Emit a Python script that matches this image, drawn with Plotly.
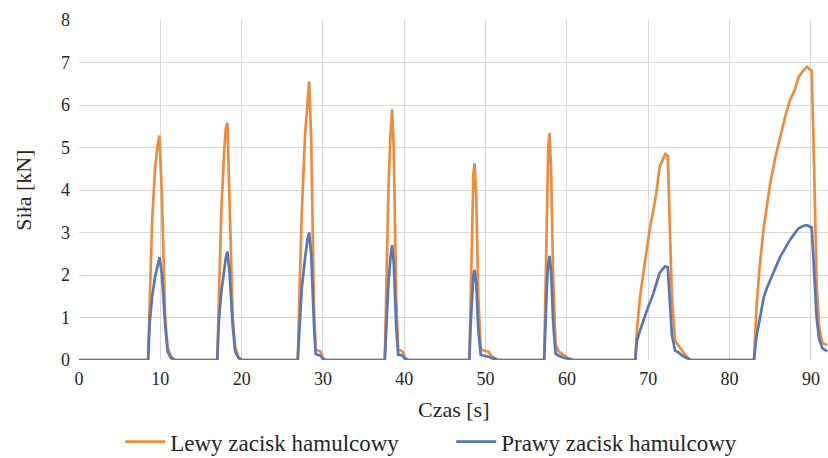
import plotly.graph_objects as go

# Time [s]
time_s = [
    0.0,
    8.5, 8.7, 9.0, 9.35, 9.7, 9.9, 10.2, 10.6, 10.9, 11.3, 11.8,
    17.0, 17.2, 17.5, 17.85, 18.05, 18.25, 18.5, 18.9, 19.2, 19.6, 20.0,
    26.9, 27.1, 27.4, 27.8, 28.1, 28.3, 28.55, 28.9, 29.1, 29.4, 29.7, 30.0, 30.3,
    37.6, 37.8, 38.05, 38.3, 38.5, 38.7, 39.0, 39.25, 39.5, 39.8, 40.1, 40.5,
    48.0, 48.15, 48.35, 48.5, 48.65, 48.85, 49.1, 49.4, 49.8, 50.3, 50.8, 51.5,
    57.2, 57.35, 57.55, 57.7, 57.85, 58.05, 58.3, 58.6, 59.0, 59.5, 60.0, 60.8,
    68.4, 68.6, 69.0, 69.4, 69.8, 70.2, 70.6, 71.0, 71.4, 71.8, 72.1, 72.4, 72.6, 72.9, 73.3, 73.7, 74.2, 74.7, 75.2,
    83.0, 83.3, 83.7, 84.2, 84.6, 85.0, 85.6, 86.2, 86.8, 87.4, 88.0, 88.5, 89.0, 89.5, 90.1, 90.4, 90.7, 91.0, 91.4, 92.0,
]

# Lewy zacisk hamulcowy [kN]
left_kN = [
    0.0,
    0, 1.4, 3.3, 4.5, 5.1, 5.28, 3.8, 1.0, 0.3, 0.08, 0,
    0, 1.5, 3.5, 4.9, 5.45, 5.58, 4.0, 1.0, 0.3, 0.08, 0,
    0, 1.5, 3.5, 5.3, 6.2, 6.55, 5.2, 1.2, 0.25, 0.22, 0.2, 0.05, 0,
    0, 1.8, 4.0, 5.3, 5.9, 5.0, 1.5, 0.25, 0.22, 0.2, 0.05, 0,
    0, 1.6, 3.5, 4.4, 4.63, 3.8, 1.5, 0.25, 0.22, 0.2, 0.08, 0,
    0, 1.8, 4.0, 5.0, 5.34, 4.5, 2.0, 0.35, 0.2, 0.12, 0.06, 0,
    0, 0.7, 1.5, 2.05, 2.6, 3.1, 3.5, 3.95, 4.55, 4.7, 4.85, 4.8, 3.5, 1.5, 0.45, 0.35, 0.2, 0.08, 0,
    0, 1.2, 2.2, 3.13, 3.7, 4.16, 4.75, 5.25, 5.7, 6.1, 6.35, 6.66, 6.8, 6.9, 6.8, 4.5, 1.8, 0.8, 0.4, 0.35,
]

# Prawy zacisk hamulcowy [kN]
right_kN = [
    0.0,
    0, 0.9, 1.5, 1.95, 2.25, 2.42, 2.0, 0.8, 0.2, 0.05, 0,
    0, 0.9, 1.6, 2.1, 2.4, 2.55, 2.1, 0.8, 0.2, 0.05, 0,
    0, 0.8, 1.7, 2.4, 2.85, 3.0, 2.5, 0.8, 0.15, 0.12, 0.1, 0.02, 0,
    0, 0.9, 1.8, 2.4, 2.7, 2.3, 0.8, 0.12, 0.12, 0.1, 0.02, 0,
    0, 0.8, 1.6, 2.0, 2.12, 1.8, 0.7, 0.12, 0.1, 0.08, 0.04, 0,
    0, 0.9, 1.8, 2.25, 2.45, 2.1, 0.9, 0.15, 0.1, 0.06, 0.03, 0,
    0, 0.45, 0.7, 0.95, 1.15, 1.35, 1.55, 1.8, 2.05, 2.15, 2.2, 2.18, 1.6, 0.6, 0.22, 0.18, 0.1, 0.04, 0,
    0, 0.55, 0.95, 1.48, 1.7, 1.88, 2.15, 2.42, 2.62, 2.82, 2.98, 3.1, 3.15, 3.17, 3.12, 2.0, 1.0, 0.5, 0.28, 0.2,
]

x_ticks = [0, 10, 20, 30, 40, 50, 60, 70, 80, 90]
y_ticks = [0, 1, 2, 3, 4, 5, 6, 7, 8]

FONT = "Liberation Serif, Times New Roman, DejaVu Serif, serif"
TXT = "#262626"

fig = go.Figure()
fig.add_trace(go.Scatter(x=time_s, y=left_kN, mode="lines", name="Lewy zacisk hamulcowy",
                         line=dict(color="#EE8C3E", width=2.7)))
fig.add_trace(go.Scatter(x=time_s, y=right_kN, mode="lines", name="Prawy zacisk hamulcowy",
                         line=dict(color="#5A77B2", width=2.7)))

fig.update_layout(
    width=828, height=458,
    margin=dict(l=79, r=0, t=20, b=98, autoexpand=False),
    paper_bgcolor="white", plot_bgcolor="white",
    font=dict(family=FONT, size=18, color=TXT),
    showlegend=True,
    legend=dict(orientation="h", x=0.055, xanchor="left", y=-0.24, yanchor="middle",
                font=dict(family=FONT, size=23, color=TXT), itemwidth=40,
                entrywidth=276, entrywidthmode="pixels", traceorder="normal"),
    xaxis=dict(range=[0, 92.1], tickvals=x_ticks, showgrid=True, gridcolor="#D9D9D9", gridwidth=1,
               zeroline=False, showline=False, ticks="", ticklabelstandoff=6,
               tickfont=dict(family=FONT, size=18, color=TXT), fixedrange=True),
    yaxis=dict(range=[0, 8], tickvals=y_ticks, showgrid=True, gridcolor="#D9D9D9", gridwidth=1,
               zeroline=False, showline=False, ticks="", ticklabelstandoff=8,
               tickfont=dict(family=FONT, size=18, color=TXT), fixedrange=True),
    annotations=[
        dict(text="Czas [s]", xref="paper", yref="paper", x=0.5, y=-0.145, xanchor="center",
             yanchor="middle", showarrow=False, font=dict(family=FONT, size=22, color=TXT)),
        dict(text="Siła [kN]", xref="paper", yref="paper", x=-0.075, y=0.5, xanchor="center",
             yanchor="middle", textangle=-90, showarrow=False,
             font=dict(family=FONT, size=22, color=TXT)),
    ],
)

fig.write_html("out.html")
